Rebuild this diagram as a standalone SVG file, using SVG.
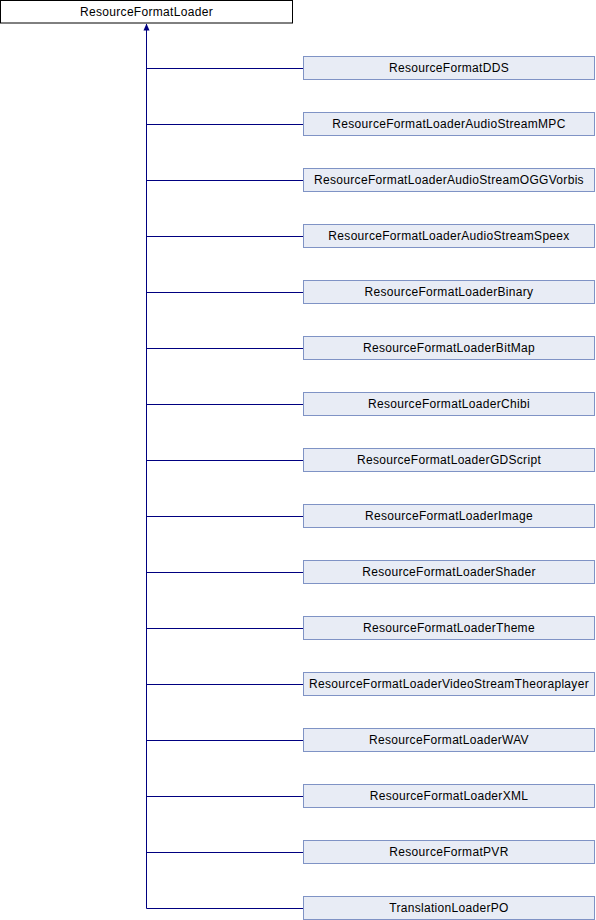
<svg xmlns="http://www.w3.org/2000/svg" width="596" height="920" viewBox="0 0 596 920">
<style>
.root{fill:#ffffff;stroke:#000000;stroke-width:1}
.box{fill:#e8ecf5;stroke:#7f93c5;stroke-width:1}
text{font-family:"Liberation Sans",Arial,sans-serif;font-size:12px;letter-spacing:0.31px;fill:#000000;text-anchor:middle}
.edge{stroke:#000080;stroke-width:1;fill:none}
</style>
<defs>
<marker id="arr" markerWidth="8" markerHeight="8" refX="3" refY="0.5" orient="auto" markerUnits="userSpaceOnUse" viewBox="0 0 6 7">
<path d="M0,7 L3,0 L6,7 Z" fill="#000080"/>
</marker>
</defs>
<rect width="596" height="920" fill="#ffffff"/>
<g id="connectors">
<path class="edge" d="M146.5,908.5 L146.5,24" />
<path d="M143.5,30.5 L146.5,23.5 L149.5,30.5 Z" fill="#000080"/>
<path class="edge" d="M146.5,68.5 H303 M146.5,124.5 H303 M146.5,180.5 H303 M146.5,236.5 H303 M146.5,292.5 H303 M146.5,348.5 H303 M146.5,404.5 H303 M146.5,460.5 H303 M146.5,516.5 H303 M146.5,572.5 H303 M146.5,628.5 H303 M146.5,684.5 H303 M146.5,740.5 H303 M146.5,796.5 H303 M146.5,852.5 H303 M146.5,908.5 H303"/>
</g>
<g id="ResourceFormatLoader"><rect class="root" x="0.5" y="0.5" width="292" height="22.5"/><text x="146.5" y="15.5">ResourceFormatLoader</text></g>
<g id="ResourceFormatDDS"><rect class="box" x="303.5" y="56.5" width="291" height="23"/><text x="449" y="71.5">ResourceFormatDDS</text></g>
<g id="ResourceFormatLoaderAudioStreamMPC"><rect class="box" x="303.5" y="112.5" width="291" height="23"/><text x="449" y="127.5">ResourceFormatLoaderAudioStreamMPC</text></g>
<g id="ResourceFormatLoaderAudioStreamOGGVorbis"><rect class="box" x="303.5" y="168.5" width="291" height="23"/><text x="449" y="183.5">ResourceFormatLoaderAudioStreamOGGVorbis</text></g>
<g id="ResourceFormatLoaderAudioStreamSpeex"><rect class="box" x="303.5" y="224.5" width="291" height="23"/><text x="449" y="239.5">ResourceFormatLoaderAudioStreamSpeex</text></g>
<g id="ResourceFormatLoaderBinary"><rect class="box" x="303.5" y="280.5" width="291" height="23"/><text x="449" y="295.5">ResourceFormatLoaderBinary</text></g>
<g id="ResourceFormatLoaderBitMap"><rect class="box" x="303.5" y="336.5" width="291" height="23"/><text x="449" y="351.5">ResourceFormatLoaderBitMap</text></g>
<g id="ResourceFormatLoaderChibi"><rect class="box" x="303.5" y="392.5" width="291" height="23"/><text x="449" y="407.5">ResourceFormatLoaderChibi</text></g>
<g id="ResourceFormatLoaderGDScript"><rect class="box" x="303.5" y="448.5" width="291" height="23"/><text x="449" y="463.5">ResourceFormatLoaderGDScript</text></g>
<g id="ResourceFormatLoaderImage"><rect class="box" x="303.5" y="504.5" width="291" height="23"/><text x="449" y="519.5">ResourceFormatLoaderImage</text></g>
<g id="ResourceFormatLoaderShader"><rect class="box" x="303.5" y="560.5" width="291" height="23"/><text x="449" y="575.5">ResourceFormatLoaderShader</text></g>
<g id="ResourceFormatLoaderTheme"><rect class="box" x="303.5" y="616.5" width="291" height="23"/><text x="449" y="631.5">ResourceFormatLoaderTheme</text></g>
<g id="ResourceFormatLoaderVideoStreamTheoraplayer"><rect class="box" x="303.5" y="672.5" width="291" height="23"/><text x="449" y="687.5">ResourceFormatLoaderVideoStreamTheoraplayer</text></g>
<g id="ResourceFormatLoaderWAV"><rect class="box" x="303.5" y="728.5" width="291" height="23"/><text x="449" y="743.5">ResourceFormatLoaderWAV</text></g>
<g id="ResourceFormatLoaderXML"><rect class="box" x="303.5" y="784.5" width="291" height="23"/><text x="449" y="799.5">ResourceFormatLoaderXML</text></g>
<g id="ResourceFormatPVR"><rect class="box" x="303.5" y="840.5" width="291" height="23"/><text x="449" y="855.5">ResourceFormatPVR</text></g>
<g id="TranslationLoaderPO"><rect class="box" x="303.5" y="896.5" width="291" height="23"/><text x="449" y="911.5">TranslationLoaderPO</text></g>
</svg>
